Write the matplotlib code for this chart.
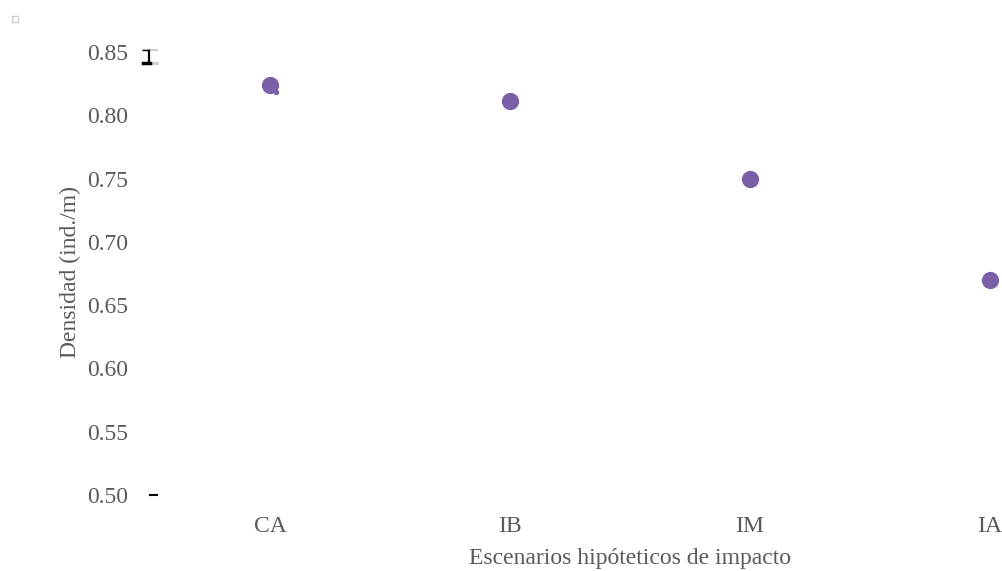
import numpy as np
import matplotlib
matplotlib.use('Agg')
import matplotlib.pyplot as plt

escenarios = ['CA', 'IB', 'IM', 'IA']
densidad = [0.824, 0.811, 0.750, 0.670]
ytick_vals = [0.50, 0.55, 0.60, 0.65, 0.70, 0.75, 0.80, 0.85]

plt.rcParams['font.family'] = ['Liberation Serif', 'DejaVu Serif']
gris = '#5a5a5a'
morado = '#7b5ea8'

fig = plt.figure(figsize=(10.02, 5.71), dpi=100)
ax = fig.add_axes([150 / 1002, 1 - 505 / 571, 852 / 1002, 465 / 571])

xs = np.arange(len(escenarios))
ax.scatter(xs, densidad, s=130, color=morado, edgecolors=morado, zorder=3)
# pequeño resto junto al primer punto
ax.scatter([xs[0] + 0.025], [densidad[0] - 0.0055], s=8, color=morado, zorder=3)

# restos de barras de error en el margen izquierdo
tr = ax.get_yaxis_transform()
ax.plot([-0.0006, -0.0006], [0.8413, 0.8516], color='black', lw=1.6, transform=tr, clip_on=False)
ax.plot([-0.0082, 0.0082], [0.8516, 0.8516], color='#cccccc', lw=1.5, transform=tr, clip_on=False)
ax.plot([-0.0082, -0.0006], [0.8516, 0.8516], color='black', lw=1, transform=tr, clip_on=False)
ax.plot([-0.0082, 0.0082], [0.8413, 0.8413], color='#cccccc', lw=2, transform=tr, clip_on=False)
ax.plot([-0.0082, 0.0], [0.8413, 0.8413], color='black', lw=2.5, transform=tr, clip_on=False)
ax.plot([0.0, 0.0082], [0.50, 0.50], color='black', lw=1.5, transform=tr, clip_on=False)

ax.set_xlim(-0.5, 3.05)
ax.set_ylim(0.4921, 0.8595)
ax.set_xticks(xs)
ax.set_xticklabels(escenarios)
ax.set_yticks(ytick_vals)
ax.set_yticklabels([f'{v:.2f}' for v in ytick_vals])
ax.tick_params(axis='both', length=0, labelsize=17, labelcolor=gris)
ax.tick_params(axis='x', pad=8)
ax.tick_params(axis='y', pad=16)
for s in ax.spines.values():
    s.set_visible(False)

ax.set_xlabel('Escenarios hipóteticos de impacto', fontsize=17, color=gris)
ax.set_ylabel('Densidad (ind./m)', fontsize=17, color=gris, labelpad=4)
ax.xaxis.set_label_coords((630 - 150) / 852, -(548 - 505) / 465)

# cuadrito de leyenda vacío
fig.patches.append(plt.Rectangle((12 / 1002, 1 - 22 / 571), 6 / 1002, 6 / 571,
                                 transform=fig.transFigure, fill=False,
                                 edgecolor='#cccccc', lw=1))

fig.savefig('out.png', dpi=100)
